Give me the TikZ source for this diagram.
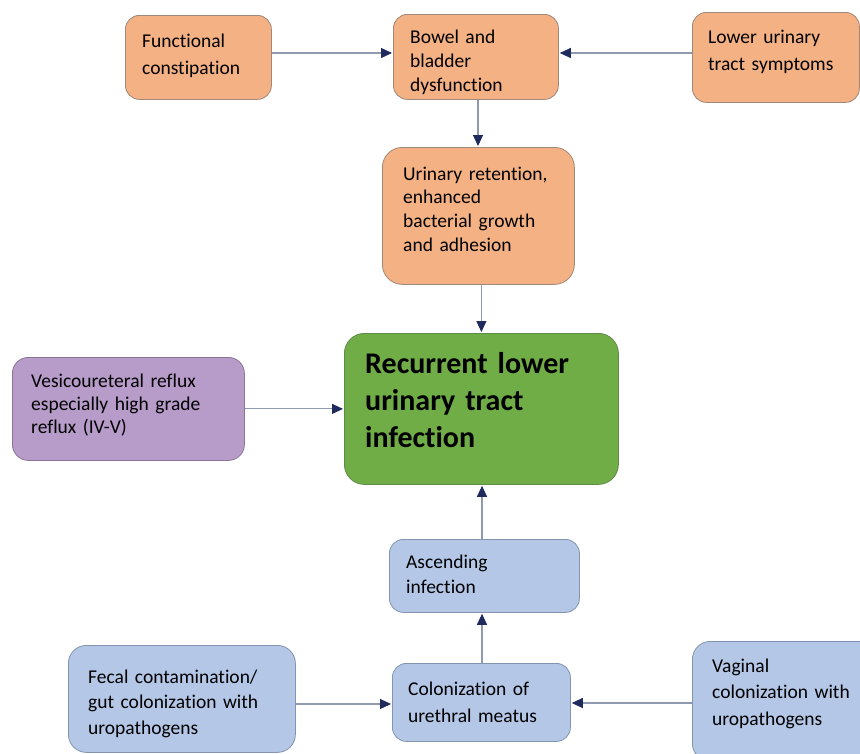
\documentclass[tikz,border=0pt]{standalone}
\usepackage{fontspec}
\setmainfont{Carlito}[Ligatures=NoCommon]
\usetikzlibrary{arrows.meta,calc}
\definecolor{ofill}{HTML}{F4B183}
\definecolor{odraw}{HTML}{A08878}
\definecolor{bfill}{HTML}{B4C7E7}
\definecolor{bdraw}{HTML}{8294AE}
\definecolor{gfill}{HTML}{70AD47}
\definecolor{gdraw}{HTML}{5E8A4A}
\definecolor{pfill}{HTML}{B79BC9}
\definecolor{pdraw}{HTML}{8A7598}
\definecolor{linegray}{HTML}{8E9AB0}
\definecolor{navy}{HTML}{1F2A5E}
\begin{document}
\begin{tikzpicture}[x=1pt,y=-1pt,
  box/.style={rectangle, rounded corners=14pt, line width=0.8pt, anchor=north west, inner sep=0pt},
  obox/.style={box, fill=ofill, draw=odraw},
  bbox/.style={box, fill=bfill, draw=bdraw},
  gbox/.style={box, fill=gfill, draw=gdraw, rounded corners=20pt},
  pbox/.style={box, fill=pfill, draw=pdraw},
  txt/.style={anchor=base west, align=left, inner sep=0pt, text width=#1},
  txt/.default=240pt,
  arr/.style={draw=linegray, line width=1.1pt, shorten >=1pt,
    -{Triangle[length=11pt,width=10pt,fill=navy,color=navy]}}]
\useasboundingbox (0,0) rectangle (860,753);
\fill[white] (0,0) rectangle (860,753);

% boxes
\node[obox, minimum width=146pt, minimum height=84pt] (fc) at (125,15) {};
\node[obox, minimum width=165pt, minimum height=85pt] (bbd) at (393,14) {};
\node[obox, minimum width=167pt, minimum height=90pt] (luts) at (692,12) {};
\node[obox, minimum width=192pt, minimum height=137pt, rounded corners=20pt] (ur) at (382,147) {};
\node[gbox, minimum width=274pt, minimum height=151pt] (rec) at (344,333) {};
\node[pbox, minimum width=232pt, minimum height=103pt, rounded corners=16pt] (vur) at (12,357) {};
\node[bbox, minimum width=190pt, minimum height=73pt] (asc) at (389,539) {};
\node[bbox, minimum width=178pt, minimum height=78pt] (col) at (392,663) {};
\node[bbox, minimum width=227pt, minimum height=107pt, rounded corners=18pt] (fec) at (68,645) {};
\node[bbox, minimum width=200pt, minimum height=120pt, rounded corners=18pt] (vag) at (692,641) {};

% texts
\node[txt, font=\fontsize{19.5}{27}\selectfont] (fct) at (142,47) {Functional\\constipation};
\node[txt, font=\fontsize{19.5}{24}\selectfont] (bbdt) at (410,43) {Bowel and\\bladder\\dysfunction};
\node[txt, font=\fontsize{19.5}{27}\selectfont] (lutst) at (708,43) {Lower urinary\\tract symptoms};
\node[txt, font=\fontsize{19.5}{23.7}\selectfont] (urt) at (403,180) {Urinary retention,\\enhanced\\bacterial growth\\and adhesion};
\node[txt, font=\fontsize{30}{37}\selectfont\bfseries] (rect) at (365,373) {Recurrent lower\\urinary tract\\infection};
\node[txt, font=\fontsize{19.5}{23}\selectfont] (vurt) at (31,387) {Vesicoureteral reflux\\especially high grade\\reflux (IV-V)};
\node[txt, font=\fontsize{19.5}{25}\selectfont] (asct) at (406,568) {Ascending\\infection};
\node[txt, font=\fontsize{19.5}{27}\selectfont] (colt) at (408,695) {Colonization of\\urethral meatus};
\node[txt, font=\fontsize{19.5}{25.5}\selectfont] (fect) at (88,683) {Fecal contamination/\\gut colonization with\\uropathogens};
\node[txt, font=\fontsize{19.5}{26.5}\selectfont] (vagt) at (712,672) {Vaginal\\colonization with\\uropathogens};

% connectors
\draw[arr] (fc.east |- 0,53) -- (bbd.west |- 0,53);
\draw[arr] (luts.west |- 0,53) -- (bbd.east |- 0,53);
\draw[arr] (bbd.south -| 478,0) -- (ur.north -| 478,0);
\draw[arr] (ur.south -| rec.north) -- (rec.north);
\draw[arr] (vur.east) -- (rec.west |- vur.east);
\draw[arr] (asc.north -| 482,0) -- (rec.south -| 482,0);
\draw[arr] (col.north -| 482,0) -- (asc.south -| 482,0);
\draw[arr] (fec.east |- 0,704) -- (col.west |- 0,704);
\draw[arr] (vag.west |- 0,703) -- (col.east |- 0,703);
\end{tikzpicture}
\end{document}
